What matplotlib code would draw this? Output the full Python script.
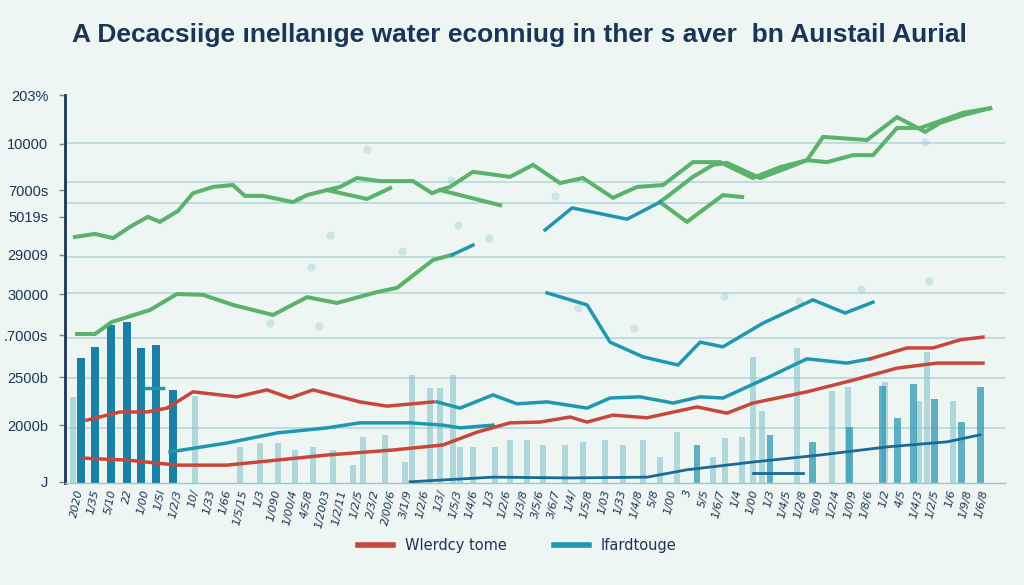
import numpy as np
import matplotlib
matplotlib.use("Agg")
import matplotlib.pyplot as plt
from matplotlib.lines import Line2D

# ---------------------------------------------------------------------------
# Data (x in category units, y on a 0-100 scale)
# ---------------------------------------------------------------------------

title = "A Decacsiige ınellanıge water econniug in ther s aver  bn Auıstail Aurial"

ytick_vals = [100.0, 87.4, 75.5, 68.6, 58.8, 48.7, 38.1, 27.3, 14.9, 0.3]
ytick_labels = ["203%", "10000", "7000s", "5019s", "29009", "30000",
                ".7000s", "2500b", "2000b", "J"]
grid_vals = [100.3, 87.6, 77.6, 72.2, 58.2, 49.0, 37.4, 27.1, 14.2]

xtick_labels = ["2020", "1/35", "5/10", "22", "1/00", "1/5l", "1/2/3", "10/",
                "1/33", "1/66", "1/5/15", "1/3", "1/090", "1/00/4", "4/5/8",
                "1/2003", "1/2/11", "1/2/5", "2/3/2", "2/00/6", "3/1/9", "1/2/6",
                "1/3/", "1/5/3", "1/4/6", "1/3", "1/2/6", "1/3/8", "3/5/6",
                "3/6/7", "1/4/", "1/5/8", "1/03", "1/33", "1/4/8", "5/8", "1/00",
                "3", "5/5", "1/6/7", "1/4", "1/00", "1/3", "1/4/5", "1/2/8",
                "5/09", "1/2/4", "1/0/9", "1/8/6", "1/2", "4/5", "1/4/3",
                "1/2/5", "1/6", "1/9/8", "1/6/8"]

# green lines
green_a_x = [0.10, 1.14, 2.07, 2.94, 3.87, 4.49, 5.42, 6.20, 7.23, 8.26, 8.88,
             9.81, 11.36, 12.09, 13.12, 13.79, 14.67, 15.86, 17.56, 18.54,
             18.96, 19.47, 20.66, 22.57, 23.76, 25.15, 26.34, 27.89, 29.13,
             30.48, 32.02, 33.42, 35.12, 36.52, 37.91, 38.95, 40.29, 41.32,
             42.56, 43.75, 44.63, 45.97, 47.37]
green_a_y = [63.4, 64.2, 63.1, 66.0, 68.6, 67.3, 70.1, 74.7, 76.3, 76.8, 74.0,
             74.0, 72.4, 74.2, 75.5, 76.3, 78.6, 77.8, 77.8, 74.7, 75.5, 76.3,
             80.2, 78.9, 82.0, 77.3, 78.6, 73.5, 76.3, 76.8, 82.7, 82.7, 78.6,
             81.4, 83.2, 82.7, 84.5, 84.5, 91.5, 91.5, 93.0, 95.4, 96.6]
green_b1_x = [13.12, 15.19, 16.38]
green_b1_y = [75.5, 73.2, 76.0]
green_b2_x = [18.96, 22.06]
green_b2_y = [75.5, 71.6]
green_c_x = [0.21, 1.14, 2.01, 3.98, 5.37, 6.71, 8.26, 10.33, 12.09, 13.64,
             15.70, 16.74, 18.60, 19.58]
green_c_y = [38.4, 38.4, 41.5, 44.6, 48.7, 48.5, 45.9, 43.3, 47.9, 46.4,
             49.2, 50.3, 57.5, 58.8]
green_d_x = [30.32, 32.02, 33.06, 33.78, 35.49, 36.88, 37.91, 38.74, 41.01,
             42.56, 44.01, 44.78, 45.97, 47.37]
green_d_y = [72.4, 78.9, 82.0, 82.5, 78.6, 81.2, 83.2, 89.2, 88.4, 94.3,
             90.5, 92.8, 94.8, 96.6]
green_e_x = [30.32, 31.71, 33.57, 34.56]
green_e_y = [72.4, 67.3, 74.2, 73.7]

# teal lines
teal_a_x = [19.58, 20.66]
teal_a_y = [58.8, 61.3]
teal_b_x = [24.38, 25.78, 28.62, 30.32]
teal_b_y = [65.2, 70.9, 68.0, 72.4]
teal_c_x = [24.48, 26.55, 27.74, 29.44, 31.25, 32.39, 33.57, 35.64, 38.22,
            39.88, 41.32]
teal_c_y = [49.0, 45.9, 36.3, 32.5, 30.4, 36.3, 35.1, 41.2, 47.2, 43.8, 46.6]
teal_d_x = [18.80, 19.99, 21.69, 22.93, 24.48, 26.55, 27.74, 29.29, 30.99,
            32.39, 33.57, 35.85, 37.91, 39.98, 41.17]
teal_d_y = [20.9, 19.3, 22.7, 20.4, 20.9, 19.3, 21.9, 22.2, 20.6, 22.2, 21.9,
            27.1, 32.0, 30.9, 32.0]
teal_e_x = [5.01, 7.95, 10.54, 13.12, 14.82, 17.41, 19.11, 19.99, 21.69]
teal_e_y = [8.0, 10.3, 12.9, 14.2, 15.5, 15.5, 14.9, 14.2, 14.9]
teal_f_x = [3.72, 4.65]
teal_f_y = [24.5, 24.5]

# red lines
red_a_x = [0.72, 2.43, 3.82, 4.86, 6.20, 8.47, 10.02, 11.21, 12.40, 14.82,
           16.22, 18.60]
red_a_y = [16.2, 18.3, 18.3, 19.3, 23.5, 22.2, 24.0, 21.9, 24.0, 20.9, 19.8,
           20.9]
red_b_x = [41.17, 43.08, 44.42, 45.82, 47.00]
red_b_y = [32.0, 34.8, 34.8, 36.9, 37.6]
red_c_x = [0.52, 2.79, 5.37, 7.95, 10.54, 13.12, 16.53, 19.11, 20.87, 22.57,
           24.12, 25.67, 26.55, 27.89, 29.65, 32.23, 33.78, 35.12, 37.91,
           40.29, 42.56, 44.63, 47.00]
red_c_y = [6.4, 5.9, 4.6, 4.6, 5.9, 7.2, 8.5, 9.8, 13.1, 15.5, 15.7, 17.0,
           15.7, 17.5, 16.8, 19.6, 18.0, 20.6, 23.5, 26.5, 29.6, 30.9, 30.9]

# dark blue baseline-ish line
navy_x = [17.41, 21.69, 25.67, 29.65, 31.71, 35.12, 38.58, 42.05, 45.14, 46.85]
navy_y = [0.3, 1.5, 1.3, 1.5, 3.4, 5.4, 7.2, 9.3, 10.6, 12.4]
navy_short_x = [35.12, 37.71]
navy_short_y = [2.6, 2.6]

# bars
bars_dark_x = [0.41, 1.14, 1.96, 2.79, 3.51, 4.29, 5.17]
bars_dark_h = [32.2, 35.1, 40.7, 41.5, 34.8, 35.6, 24.0]
bars_mid_x = [32.23, 36.00, 38.22, 40.13, 41.79, 42.56, 43.39, 44.52, 45.87,
              46.85]
bars_mid_h = [9.8, 12.4, 10.6, 14.4, 25.0, 16.8, 25.5, 21.6, 15.7, 24.8]
bars_light_x = [0.0, 6.30, 8.63, 9.66, 10.59, 11.47, 12.40, 13.43, 14.46,
                14.98, 16.12, 17.15, 17.51, 18.44, 18.96, 19.63, 19.99, 20.66,
                21.79, 22.57, 23.45, 24.28, 25.41, 26.34, 27.48, 28.41, 29.44,
                30.32, 31.20, 33.06, 33.68, 34.56, 35.12, 35.59, 37.40, 39.21,
                40.03, 41.94, 43.70, 44.11, 45.45]
bars_light_h = [22.2, 22.4, 9.3, 10.3, 10.3, 8.5, 9.3, 8.5, 4.6, 11.9, 12.4,
                5.4, 27.8, 24.5, 24.5, 27.8, 9.3, 9.3, 9.3, 11.1, 11.1, 9.8,
                9.8, 10.6, 11.1, 9.8, 11.1, 6.7, 13.1, 6.7, 11.6, 11.9, 32.5,
                18.6, 34.8, 23.7, 24.7, 26.0, 21.1, 33.8, 21.1]

# decorative watercolour dots
dots_x = [15.2, 19.5, 24.9, 19.9, 11.7, 13.3, 12.3, 17.0, 21.5, 26.1, 33.6,
          40.7, 44.2, 37.5, 44.0, 12.7, 10.2, 29.0]
dots_y = [86.0, 78.0, 74.0, 66.4, 73.2, 63.9, 55.7, 59.8, 63.1, 45.0, 48.2,
          50.0, 52.0, 47.0, 88.0, 40.4, 41.2, 39.9]

legend_labels = ["Wlerdcy tome", "Ifardtouge"]

# ---------------------------------------------------------------------------
# Styling
# ---------------------------------------------------------------------------
BG = "#eef6f3"
NAVY = "#1c3556"
GREEN = "#5bb36b"
TEAL = "#1f97ae"
RED = "#c8473a"
DARKBLUE = "#1a6a96"
BARDARK = "#1b80a6"
BARMID = "#2f98b4"
BARLIGHT = "#86c3cd"

fig = plt.figure(figsize=(10.24, 5.85), dpi=100, facecolor=BG)
ax = fig.add_axes([0.0635, 0.1744, 0.918, 0.6632], facecolor=BG)

for g in grid_vals:
    ax.axhline(g, color="#a7cdd2", lw=1.3, alpha=0.7, zorder=0)

ax.scatter(dots_x, dots_y, s=35, color="#8fc6d0", alpha=0.35, lw=0, zorder=1)

ax.bar(bars_light_x, bars_light_h, width=0.32, color=BARLIGHT, alpha=0.6,
       zorder=1)
ax.bar(bars_mid_x, bars_mid_h, width=0.36, color=BARMID, alpha=0.75, zorder=1)
ax.bar(bars_dark_x, bars_dark_h, width=0.38, color=BARDARK, zorder=2)

for xs, ys in [(green_a_x, green_a_y), (green_b1_x, green_b1_y),
               (green_b2_x, green_b2_y), (green_c_x, green_c_y),
               (green_d_x, green_d_y), (green_e_x, green_e_y)]:
    ax.plot(xs, ys, color=GREEN, lw=2.9, solid_joinstyle="miter", zorder=3)

for xs, ys in [(teal_a_x, teal_a_y), (teal_b_x, teal_b_y), (teal_c_x, teal_c_y),
               (teal_d_x, teal_d_y), (teal_e_x, teal_e_y), (teal_f_x, teal_f_y)]:
    ax.plot(xs, ys, color=TEAL, lw=2.5, zorder=3)

for xs, ys in [(red_a_x, red_a_y), (red_b_x, red_b_y), (red_c_x, red_c_y)]:
    ax.plot(xs, ys, color=RED, lw=2.5, zorder=3)

ax.plot(navy_x, navy_y, color=DARKBLUE, lw=2.0, zorder=3)
ax.plot(navy_short_x, navy_short_y, color=DARKBLUE, lw=2.0, zorder=3)

ax.set_xlim(-0.41, 48.14)
ax.set_ylim(0, 100)

ax.set_yticks(ytick_vals)
ax.set_yticklabels(ytick_labels, fontsize=10.5, color=NAVY,
                   family=["Liberation Sans", "DejaVu Sans"])
ax.tick_params(axis="y", length=4, width=1, color="#6d8aa0", pad=8)

xt = np.linspace(0.10, 46.85, len(xtick_labels))
ax.set_xticks(xt)
ax.set_xticklabels(xtick_labels, rotation=78, ha="right", va="top",
                   fontsize=8, color=NAVY, style="italic",
                   rotation_mode="anchor")
ax.tick_params(axis="x", length=0, pad=4)

for side in ["top", "right"]:
    ax.spines[side].set_visible(False)
ax.spines["left"].set_color(NAVY)
ax.spines["left"].set_linewidth(2)
ax.spines["bottom"].set_color("#9cc5cc")
ax.spines["bottom"].set_linewidth(1)

fig.text(0.507, 0.94, title, ha="center", va="center", fontsize=19,
         fontweight="bold", color=NAVY, family=["Liberation Sans", "DejaVu Sans"])

handles = [Line2D([0], [0], color=RED, lw=4),
           Line2D([0], [0], color=TEAL, lw=4)]
fig.legend(handles, legend_labels, loc="center", bbox_to_anchor=(0.505, 0.067),
           ncol=2, frameon=False, fontsize=10.5, handlelength=2.4,
           columnspacing=3.2, labelcolor=NAVY)

fig.savefig("out.png", dpi=100, facecolor=BG)
